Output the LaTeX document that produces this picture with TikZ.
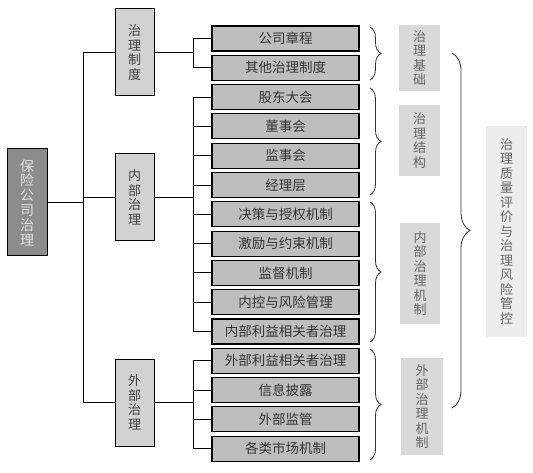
\documentclass[tikz,border=0pt]{standalone}
\usepackage{fontspec}
\newfontfamily\cjk{Noto Sans CJK SC}
\usetikzlibrary{decorations.pathreplacing}
\definecolor{rootgray}{HTML}{8C8C8C}
\definecolor{midgray}{HTML}{D2D2D2}
\definecolor{leafgray}{HTML}{BEBEBE}
\definecolor{labgray}{HTML}{D9D9D9}
\definecolor{fingray}{HTML}{EDEDED}
\begin{document}
\begin{tikzpicture}[x=1pt,y=-1pt,
  rootbox/.style={draw=black, line width=1pt, fill=rootgray, text=white!88!black, minimum width=40pt, minimum height=107pt, inner sep=0pt, align=center, font=\cjk\fontsize{14}{14.8}\selectfont},
  midbox/.style={draw=black, line width=1pt, fill=midgray, text=black!75, minimum width=39pt, minimum height=87pt, inner sep=0pt, align=center, font=\cjk\fontsize{13}{14.5}\selectfont},
  leafbox/.style={draw=black, line width=1.1pt, fill=leafgray, text=black!80, minimum width=147pt, minimum height=25pt, inner sep=0pt, font=\cjk\fontsize{13.5}{14}\selectfont},
  labbox/.style={fill=labgray, text=black!60, inner sep=0pt, align=center, font=\cjk\fontsize{13}{14.5}\selectfont},
  finbox/.style={fill=fingray, text=black!60, inner sep=0pt, minimum width=41pt, minimum height=211pt, align=center, font=\cjk\fontsize{13}{14.5}\selectfont},
  conn/.style={draw=black, line width=0.9pt},
  bracepath/.style={draw=black!80, line width=0.8pt, decorate}
]
\useasboundingbox (0,0) rectangle (533,473);

% root and level 2
\node[rootbox] (root) at (27,202.5) {保\\险\\公\\司\\治\\理};
\node[midbox] (g1) at (134.5,52.5) {治\\理\\制\\度};
\node[midbox] (g2) at (134.5,197.5) {内\\部\\治\\理};
\node[midbox] (g3) at (134.5,402.5) {外\\部\\治\\理};

% leaves
\foreach \i/\t in {1/公司章程,2/其他治理制度,3/股东大会,4/董事会,5/监事会,6/经理层,7/决策与授权机制,8/激励与约束机制,9/监督机制,10/内控与风险管理,11/内部利益相关者治理,12/外部利益相关者治理,13/信息披露,14/外部监管,15/各类市场机制}
  \node[leafbox] (l\i) at (285.5,{38.5+29.3*(\i-1)}) {\t};

% trunk
\coordinate (t1) at (83,52.5);
\coordinate (t3) at (83,402.5);
\draw[conn] (t1) -- (t3);
\draw[conn] (root.east) -- (root.east -| t1);
\draw[conn] (t1) -- (g1.west);
\draw[conn] (t1 |- g2.west) -- (g2.west);
\draw[conn] (t3) -- (g3.west);

% buses
\coordinate (bx) at (193,0);
\draw[conn] (g1.east) -- (g1.east -| bx);
\draw[conn] (bx |- l1.west) -- (bx |- l2.west);
\foreach \i in {1,2} \draw[conn] (bx |- l\i.west) -- (l\i.west);
\draw[conn] (g2.east) -- (g2.east -| bx);
\draw[conn] (bx |- l3.west) -- (bx |- l11.west);
\foreach \i in {3,...,11} \draw[conn] (bx |- l\i.west) -- (l\i.west);
\draw[conn] (g3.east) -- (g3.east -| bx);
\draw[conn] (bx |- l12.west) -- (bx |- l15.west);
\foreach \i in {12,...,15} \draw[conn] (bx |- l\i.west) -- (l\i.west);

% braces
\coordinate (b1a) at (370,27); \coordinate (b1b) at (370,80);
\coordinate (b2a) at (370,88); \coordinate (b2b) at (370,195);
\coordinate (b3a) at (370,202); \coordinate (b3b) at (370,342);
\coordinate (b4a) at (370,349); \coordinate (b4b) at (370,460);
\draw[bracepath, decoration={brace,amplitude=11pt}] (b1a) -- (b1b);
\draw[bracepath, decoration={brace,amplitude=11pt}] (b2a) -- (b2b);
\draw[bracepath, decoration={brace,amplitude=11pt}] (b3a) -- (b3b);
\draw[bracepath, decoration={brace,amplitude=11pt}] (b4a) -- (b4b);

% labels
\node[labbox, minimum width=41pt, minimum height=66pt] (s1) at (419.5,58) {治\\理\\基\\础};
\node[labbox, minimum width=41pt, minimum height=71pt] (s2) at (419.5,140.5) {治\\理\\结\\构};
\node[labbox, minimum width=40pt, minimum height=101pt] (s3) at (420,273.5) {内\\部\\治\\理\\机\\制};
\node[labbox, minimum width=42pt, minimum height=97pt] (s4) at (422,406.5) {外\\部\\治\\理\\机\\制};

% big brace
\coordinate (bba) at (452,53); \coordinate (bbb) at (452,408);
\draw[bracepath, decoration={brace,amplitude=18pt}] (bba) -- (bbb);

\node[finbox] (fin) at (506.5,231.5) {治\\理\\质\\量\\评\\价\\与\\治\\理\\风\\险\\管\\控};
\end{tikzpicture}
\end{document}
